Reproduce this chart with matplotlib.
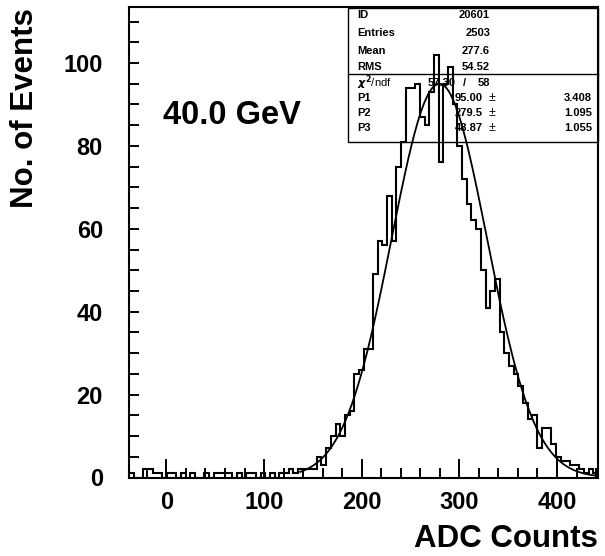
import matplotlib
matplotlib.use('Agg')
import matplotlib.pyplot as plt
from matplotlib.patches import Rectangle
from matplotlib.lines import Line2D
from matplotlib.ticker import MultipleLocator
import numpy as np

plt.rcParams['font.family'] = ['Liberation Sans', 'DejaVu Sans']
plt.rcParams['font.weight'] = 'bold'
plt.rcParams['mathtext.fontset'] = 'dejavusans'

# histogram binning (100 bins)
x_low = -38.0
x_high = 442.0
n_bins = 100
counts = [1, 0, 0, 2, 2, 1, 1, 0, 1, 1, 0, 1, 0, 1, 0, 0, 1, 0, 1, 1,
          1, 1, 0, 1, 0, 1, 1, 0, 1, 0, 1, 0, 1, 1, 2, 1, 2, 2, 2, 2,
          5, 3, 7, 10, 13, 10, 15, 16, 25, 26, 31, 31, 49, 57, 56, 68, 57, 75, 81, 94,
          94, 95, 87, 85, 93, 102, 76, 95, 99, 90, 80, 72, 66, 62, 60, 50, 41, 45, 48, 35,
          30, 27, 25, 22, 18, 14, 15, 7, 12, 12, 8, 5, 4, 4, 3, 3, 2, 1, 2, 1]

# gaussian fit
p1 = 95.00
p2 = 279.5
p3 = 48.87
fit_from = 137.0

stat_names = ['ID', 'Entries', 'Mean', 'RMS']
stat_values = ['20601', '2503', '277.6', '54.52']
par_names = ['P1', 'P2', 'P3']
par_values = ['95.00', '279.5', '48.87']
par_errors = ['3.408', '1.095', '1.055']
chi2 = '57.30'
ndf = '58'
energy_label = '40.0 GeV'

W, H = 605, 556


def px(x, y):
    # pixel position (from top left) -> figure fraction
    return x / W, 1 - y / H


fig = plt.figure(figsize=(W / 100, H / 100), dpi=100)
ax = fig.add_axes([129.3 / W, 1 - 477.5 / H, (598 - 129.3) / W, (477.5 - 7) / H])

edges = np.linspace(x_low, x_high, n_bins + 1)
ax.stairs(counts, edges, color='black', lw=1.5)
xf = np.linspace(fit_from, x_high, 400)
ax.plot(xf, p1 * np.exp(-0.5 * ((xf - p2) / p3) ** 2), color='black', lw=1.3)

ax.set_xlim(x_low, x_high)
ax.set_ylim(0, 113.5)
ax.xaxis.set_major_locator(MultipleLocator(100))
ax.xaxis.set_minor_locator(MultipleLocator(20))
ax.yaxis.set_major_locator(MultipleLocator(20))
ax.yaxis.set_minor_locator(MultipleLocator(5))
ax.tick_params(which='both', direction='in', top=False, right=False, width=1.4, labelsize=17)
ax.tick_params(axis='x', which='major', length=14, pad=10)
ax.tick_params(axis='x', which='minor', length=7)
ax.tick_params(axis='y', which='both', length=7)
ax.tick_params(axis='y', which='major', pad=19)
for s in ax.spines.values():
    s.set_linewidth(1.5)

fig.text(*px(25, 8), 'No. of Events', rotation=90, ha='center', va='top', fontsize=22.5)
fig.text(*px(598, 539), 'ADC Counts', ha='right', va='center', fontsize=22.5)
fig.text(*px(163, 116), energy_label, ha='left', va='center', fontsize=23.5)

# stats box
bx0, by0 = px(348, 141.7)
bx1, by1 = px(598, 8)
fig.add_artist(Rectangle((bx0, by0), bx1 - bx0, by1 - by0, transform=fig.transFigure,
                         fill=False, lw=1.0, color='black'))
sx, sy = px(348, 74)
fig.add_artist(Line2D([sx, bx1], [sy, sy], transform=fig.transFigure, lw=1.0, color='black'))

fs = 8
rows_top = [15, 33, 50.7, 66.7]
for name, val, yy in zip(stat_names, stat_values, rows_top):
    fig.text(*px(357, yy), name, ha='left', va='center', fontsize=fs)
    fig.text(*px(490, yy), val, ha='right', va='center', fontsize=fs)

fig.text(*px(357, 82.7), r'$\chi^2$/ndf', ha='left', va='center', fontsize=fs, fontweight='normal')
fig.text(*px(456, 82.7), chi2, ha='right', va='center', fontsize=fs)
fig.text(*px(463, 82.7), '/', ha='left', va='center', fontsize=fs)
fig.text(*px(490, 82.7), ndf, ha='right', va='center', fontsize=fs)

rows_par = [98.3, 113.3, 128.3]
for name, val, err, yy in zip(par_names, par_values, par_errors, rows_par):
    fig.text(*px(357, yy), name, ha='left', va='center', fontsize=fs)
    fig.text(*px(483, yy), val, ha='right', va='center', fontsize=fs)
    fig.text(*px(492, yy), '\u00b1', ha='center', va='center', fontsize=fs + 1, fontweight='normal')
    fig.text(*px(592, yy), err, ha='right', va='center', fontsize=fs)

fig.savefig('out.png', dpi=100)
